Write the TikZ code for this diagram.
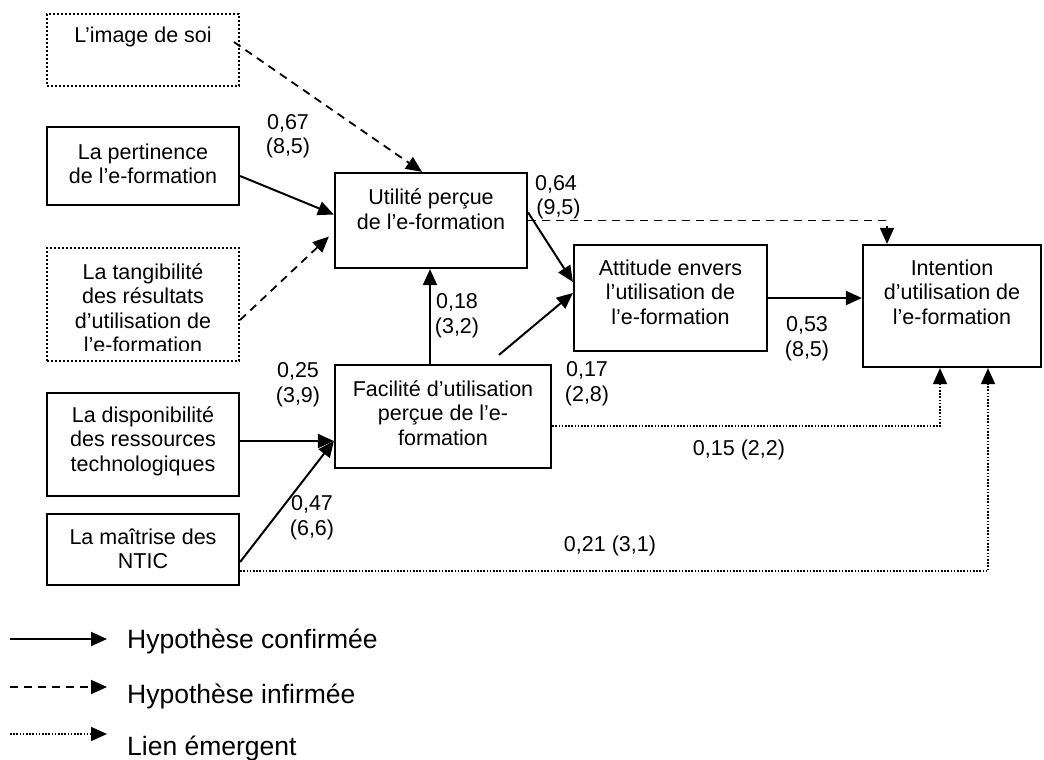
\documentclass[tikz,border=0pt]{standalone}
\usepackage{fontspec}
\setmainfont{Liberation Sans}
\usetikzlibrary{arrows.meta}
\begin{document}
\begin{tikzpicture}[x=1pt,y=-1pt,
  solidbox/.style={draw, line width=2.2pt, inner sep=0pt},
  dotbox/.style={draw, line width=2.2pt, dash pattern=on 2.2pt off 1.8pt, inner sep=0pt},
  txt/.style={inner sep=0pt, align=center, font=\fontsize{21.5}{24.5}\selectfont},
  lbl/.style={inner sep=0pt, align=center, font=\fontsize{21.5}{24.5}\selectfont},
  lgd/.style={inner sep=0pt, anchor=base west, font=\fontsize{26.5}{30}\selectfont},
  tip/.style={-{Triangle[length=16pt,width=14pt]}},
  conf/.style={tip, line width=2pt},
  infi/.style={tip, line width=1.8pt, dash pattern=on 8pt off 6pt},
  emer/.style={tip, line width=1.6pt, dash pattern=on 1.6pt off 1.6pt},
]
\useasboundingbox (0,0) rectangle (1044,760);

% boxes
\node[dotbox, minimum width=192pt, minimum height=72pt] (img) at (143,50) {};
\node[txt] (imgt) at (143,37) {L’image de soi};

\node[solidbox, minimum width=192pt, minimum height=78pt] (pert) at (143,166) {};
\node[txt] (pertt) at (143,164) {La pertinence\\de l’e-formation};

\node[dotbox, minimum width=192pt, minimum height=113pt] (tang) at (143,304.5) {};
\begin{scope}
\clip (47,248) rectangle (239,350);
\node[txt] (tangt) at (143,308) {La tangibilité\\des résultats\\d’utilisation de\\l’e-formation};
\end{scope}

\node[solidbox, minimum width=192pt, minimum height=103pt] (disp) at (143,444.5) {};
\node[txt] (dispt) at (143,441) {La disponibilité\\des ressources\\technologiques};

\node[solidbox, minimum width=192pt, minimum height=71pt] (mait) at (143,549.5) {};
\node[txt] (maitt) at (143,549) {La maîtrise des\\NTIC};

\node[solidbox, minimum width=192pt, minimum height=95pt] (util) at (431,220.5) {};
\node[txt] (utilt) at (431,209) {Utilité perçue\\de l’e-formation};

\node[solidbox, minimum width=216pt, minimum height=103pt] (fac) at (443,416.5) {};
\node[txt] (fact) at (443,413) {Facilité d’utilisation\\perçue de l’e-\\formation};

\node[solidbox, minimum width=193pt, minimum height=106pt] (att) at (670.5,298) {};
\node[txt] (attt) at (670.5,292) {Attitude envers\\l’utilisation de\\l’e-formation};

\node[solidbox, minimum width=178pt, minimum height=122pt] (int) at (952,306) {};
\node[txt] (intt) at (952,292) {Intention\\d’utilisation de\\l’e-formation};

% connectors
\draw[infi] ([xshift=22pt,yshift=-5pt]imgt.east) -- ([xshift=-9pt]util.north);
\draw[conf] ([yshift=-10pt]pert.east) -- ([yshift=6pt]util.west);
\draw[infi] ([yshift=-15.5pt]tang.east) -- ([xshift=-5pt,yshift=-16pt]util.west);
\draw[conf] ([yshift=8pt]util.east) -- ([yshift=16pt]att.west);
\draw[infi] (util.east) -| ([xshift=-65pt]int.north);
\draw[conf] ([xshift=-13pt]fac.north) -- ([xshift=-13pt]fac.north |- util.south);
\draw[conf] ([xshift=56pt,yshift=9pt]fac.north) -- ([yshift=5pt]att.west);
\draw[conf] (att.east) -- (att.east -| int.west);
\draw[emer] ([yshift=-9.5pt]fac.east) -| ([xshift=-12pt]int.south);
\draw[emer] ([yshift=-21.5pt]mait.east) -| ([xshift=36pt]int.south);
\draw[conf] ([yshift=3.5pt]disp.east) -- ([yshift=3.5pt]disp.east -| fac.west);
\draw[conf] ([yshift=-12.5pt]mait.east) -- ([yshift=-24.5pt]fac.west);

% labels
\node[lbl] (l67) at (288,136) {0,67\\(8,5)};
\node[lbl] (l64) at (556,197) {0,64\\\hspace*{5pt}(9,5)};
\node[lbl] (l18) at (457,315.5) {0,18\\(3,2)};
\node[lbl] (l25) at (298,384.5) {0,25\\(3,9)};
\node[lbl] (l47) at (312,517.5) {0,47\\(6,6)};
\node[lbl] (l17) at (587,383.5) {0,17\\(2,8)};
\node[lbl] (l53) at (807,338.5) {0,53\\(8,5)};
\node[lbl] (l15) at (739,450) {0,15 (2,2)};
\node[lbl] (l21) at (610,546) {0,21 (3,1)};

% legend
\coordinate (la1) at (10,639); \coordinate (lb1) at (107,639);
\coordinate (la2) at (10,687); \coordinate (lb2) at (107,687);
\coordinate (la3) at (10,734); \coordinate (lb3) at (107,734);
\draw[conf] (la1) -- (lb1);
\draw[infi] (la2) -- (lb2);
\draw[emer] (la3) -- (lb3);
\node[lgd] (lt1) at (127,648) {Hypothèse confirmée};
\node[lgd] (lt2) at (127,703) {Hypothèse infirmée};
\node[lgd] (lt3) at (127,755) {Lien émergent};
\end{tikzpicture}
\end{document}
